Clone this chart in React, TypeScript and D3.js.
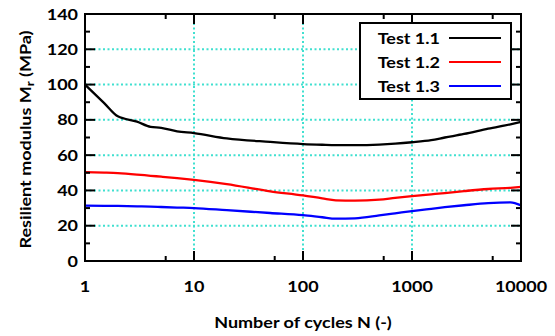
import React, { useRef, useEffect } from "react";
import * as d3 from "d3";

const cycles = [1, 1.5, 2, 3, 4, 5, 7, 10, 20, 50, 100, 150, 200, 300, 500, 700, 1000, 1500, 2000, 3000, 5000, 8000, 10000];
const test11 = [100, 89.5, 82, 79, 76, 75.5, 73.5, 72.5, 69.5, 67.5, 66.3, 65.9, 65.7, 65.7, 66, 66.5, 67.3, 68.5, 70, 72, 75, 77.5, 78.8];
const test12 = [50.4, 50.1, 49.8, 49, 48.3, 47.8, 47, 46, 43.6, 39.5, 37.2, 35.5, 34.4, 34.2, 34.8, 35.8, 36.8, 37.8, 38.5, 39.6, 40.8, 41.5, 42];
const test13 = [31.4, 31.3, 31.2, 31, 30.8, 30.6, 30.3, 30, 28.8, 27.2, 26, 24.8, 24, 24.2, 25.8, 27, 28.3, 29.6, 30.5, 31.6, 32.8, 33.2, 31.5];

const seriesNames = ["Test 1.1", "Test 1.2", "Test 1.3"];
const seriesColors = ["#000000", "#ff0000", "#0000ff"];

const xMajor = [1, 10, 100, 1000, 10000];
const xMinor = [5.5, 55, 550, 5500];
const yMajor = [0, 20, 40, 60, 80, 100, 120, 140];
const yMinor = [10, 30, 50, 70, 90, 110, 130];

const App: React.FC = () => {
  const ref = useRef<SVGSVGElement | null>(null);

  useEffect(() => {
    const width = 555;
    const height = 336;
    const left = 85, right = 521, top = 14, bottom = 261;
    const font = "Lato, 'Open Sans', sans-serif";
    const stretch = 1.2; // the source font is wider than Lato

    const svg = d3.select(ref.current);
    svg.selectAll("*").remove();
    svg.attr("width", width).attr("height", height).attr("viewBox", `0 0 ${width} ${height}`);

    const x = d3.scaleLog().domain([1, 10000]).range([left, right]);
    const y = d3.scaleLinear().domain([0, 140]).range([bottom, top]);

    svg.append("rect").attr("width", width).attr("height", height).attr("fill", "white");

    const label = (g: any, tx: number, ty: number, anchor: string, txt: string, rot = 0) =>
      g.append("text")
        .attr("transform", `translate(${tx},${ty}) rotate(${rot}) scale(${stretch},1)`)
        .attr("text-anchor", anchor)
        .attr("font-family", font).attr("font-weight", "bold").attr("font-size", 15)
        .text(txt);

    // dotted grid
    const grid = svg.append("g").attr("stroke", "#40e0d0").attr("stroke-width", 2)
      .attr("stroke-dasharray", "2,2.5");
    grid.selectAll("line.gx")
      .data(xMajor.slice(1, -1))
      .join("line")
      .attr("x1", (d) => x(d)).attr("x2", (d) => x(d))
      .attr("y1", top).attr("y2", bottom);
    grid.selectAll("line.gy")
      .data(yMajor.slice(1, -1))
      .join("line")
      .attr("class", "gy")
      .attr("x1", left).attr("x2", right)
      .attr("y1", (d) => y(d)).attr("y2", (d) => y(d));

    // data lines
    const allSeries = [test11, test12, test13];
    const line = d3.line<number>()
      .x((_, i) => x(cycles[i]))
      .y((d) => y(d))
      .curve(d3.curveMonotoneX);
    allSeries.forEach((s, k) => {
      svg.append("path")
        .attr("d", line(s))
        .attr("fill", "none")
        .attr("stroke", seriesColors[k])
        .attr("stroke-width", 2.3)
        .attr("stroke-linejoin", "round");
    });

    // ticks (inward, mirrored)
    const ticks = svg.append("g").attr("stroke", "black").attr("stroke-width", 2);
    const xt = [...xMajor.map((v) => ({ v, len: 10 })), ...xMinor.map((v) => ({ v, len: 5 }))];
    xt.forEach(({ v, len }) => {
      ticks.append("line").attr("x1", x(v)).attr("x2", x(v)).attr("y1", bottom).attr("y2", bottom - len);
      ticks.append("line").attr("x1", x(v)).attr("x2", x(v)).attr("y1", top).attr("y2", top + len);
    });
    const yt = [...yMajor.map((v) => ({ v, len: 10 })), ...yMinor.map((v) => ({ v, len: 5 }))];
    yt.forEach(({ v, len }) => {
      ticks.append("line").attr("y1", y(v)).attr("y2", y(v)).attr("x1", left).attr("x2", left + len);
      ticks.append("line").attr("y1", y(v)).attr("y2", y(v)).attr("x1", right).attr("x2", right - len);
    });

    // border
    svg.append("rect")
      .attr("x", left).attr("y", top)
      .attr("width", right - left).attr("height", bottom - top)
      .attr("fill", "none").attr("stroke", "black").attr("stroke-width", 2);

    // tick labels
    const yl = svg.append("g");
    yMajor.forEach((v) => label(yl, left - 7, y(v) + 5.5, "end", String(v)));
    const xl = svg.append("g");
    xMajor.forEach((v) => label(xl, x(v), bottom + 31, "middle", String(v)));

    // axis titles
    label(svg, (left + right) / 2, 328, "middle", "Number of cycles N (-)");
    const yTitle = label(svg, 31, (top + bottom) / 2 + 2, "middle", "", -90);
    yTitle.append("tspan").text("Resilient modulus M");
    yTitle.append("tspan").attr("font-size", 11).attr("dy", 3).text("r");
    yTitle.append("tspan").attr("dy", -3).text(" (MPa)");

    // legend
    const lg = svg.append("g");
    lg.append("rect")
      .attr("x", 360).attr("y", 23).attr("width", 151).attr("height", 76)
      .attr("fill", "white").attr("stroke", "black").attr("stroke-width", 2);
    seriesNames.forEach((name, k) => {
      const ly = 38 + k * 24;
      label(lg, 440, ly + 5.5, "end", name);
      lg.append("line")
        .attr("x1", 449).attr("x2", 501).attr("y1", ly).attr("y2", ly)
        .attr("stroke", seriesColors[k]).attr("stroke-width", 2);
    });
  }, []);

  return <svg ref={ref} style={{ position: "absolute", left: 0, top: 0 }}></svg>;
};

export default App;
